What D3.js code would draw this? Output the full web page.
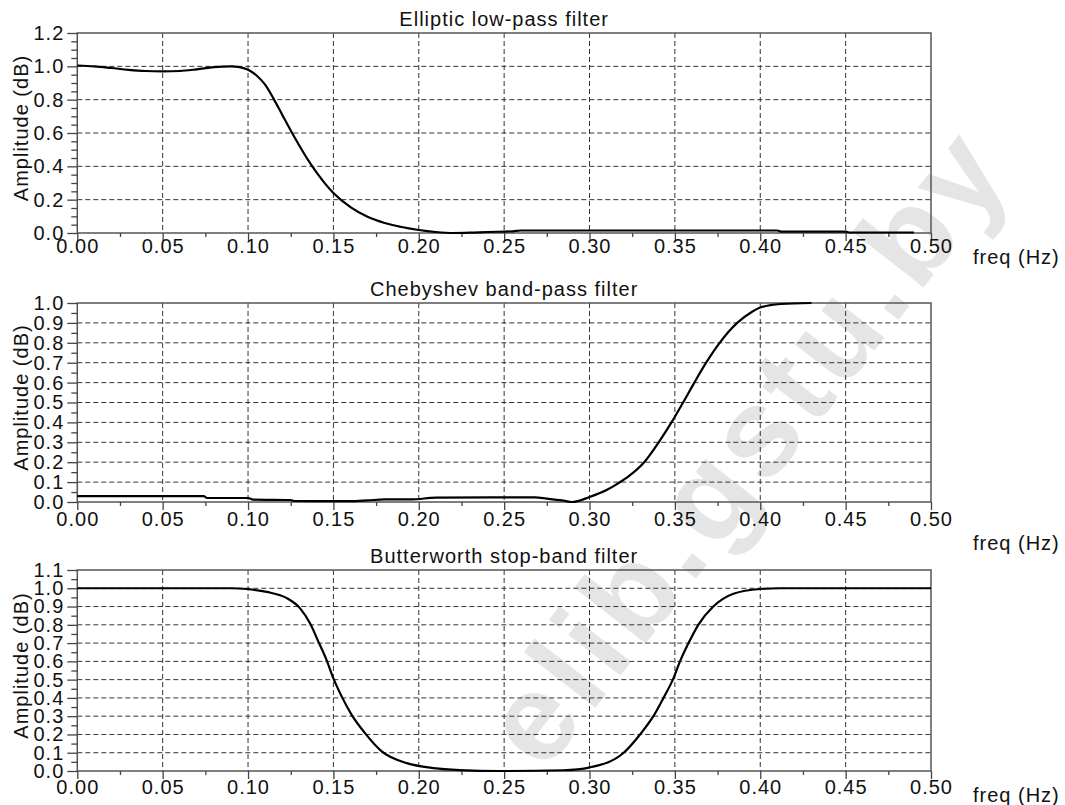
<!DOCTYPE html>
<html lang="en">
<head>
<meta charset="UTF-8">
<title>Filters</title>
<script src="https://cdnjs.cloudflare.com/ajax/libs/d3/7.8.5/d3.min.js"></script>
<style>
	body { margin: 0; background: #fff; }
	svg text { font-family: "Liberation Sans", Arial, sans-serif; fill: #111; letter-spacing: 1px; }
</style>
</head>
<body>
<svg id="chart" width="1065" height="805"></svg>
<script>
// x axis (normalised frequency)
var xTicks = [0, 0.05, 0.10, 0.15, 0.20, 0.25, 0.30, 0.35, 0.40, 0.45, 0.50];
var xLabel = "freq (Hz)";
var yLabel = "Amplitude (dB)";
var titles = ["Elliptic low-pass filter", "Chebyshev band-pass filter", "Butterworth stop-band filter"];

// curves
var ellipticFreq = [0, 0.01, 0.02, 0.03, 0.04, 0.05, 0.06, 0.07, 0.08, 0.09, 0.095, 0.10, 0.105, 0.11, 0.115, 0.12, 0.125, 0.13, 0.135, 0.14, 0.145, 0.15, 0.16, 0.17, 0.18, 0.19, 0.20, 0.21, 0.22, 0.23, 0.24, 0.255, 0.26, 0.30, 0.35, 0.41, 0.412, 0.45, 0.452, 0.49];
var ellipticAmp  = [1.005, 1.0, 0.99, 0.979, 0.972, 0.97, 0.972, 0.982, 0.995, 1.0, 0.995, 0.98, 0.945, 0.89, 0.805, 0.71, 0.615, 0.525, 0.44, 0.365, 0.298, 0.24, 0.155, 0.097, 0.06, 0.036, 0.018, 0.006, 0.0, 0.002, 0.006, 0.01, 0.015, 0.015, 0.015, 0.015, 0.008, 0.008, 0.003, 0.003];

var chebyFreq = [0, 0.074, 0.076, 0.10, 0.103, 0.125, 0.127, 0.16, 0.17, 0.18, 0.196, 0.21, 0.268, 0.275, 0.284, 0.29, 0.30, 0.31, 0.317, 0.323, 0.332, 0.3405, 0.348, 0.3548, 0.3614, 0.3683, 0.3762, 0.3865, 0.395, 0.40, 0.412, 0.43];
var chebyAmp  = [0.03, 0.03, 0.02, 0.02, 0.012, 0.01, 0.005, 0.004, 0.008, 0.013, 0.013, 0.022, 0.023, 0.017, 0.008, 0.0, 0.025, 0.06, 0.095, 0.13, 0.2, 0.30, 0.40, 0.50, 0.60, 0.70, 0.80, 0.90, 0.955, 0.977, 0.995, 1.0];

var butterFreq = [0, 0.09, 0.0992, 0.111, 0.1227, 0.1305, 0.1363, 0.1412, 0.146, 0.15, 0.1549, 0.1607, 0.1685, 0.1783, 0.193, 0.2086, 0.224, 0.2476, 0.2847, 0.3003, 0.32, 0.3296, 0.3374, 0.3433, 0.3488, 0.353, 0.358, 0.3637, 0.3725, 0.3843, 0.40, 0.4117, 0.5];
var butterAmp  = [1.0, 1.0, 0.996, 0.98, 0.946, 0.89, 0.808, 0.708, 0.607, 0.507, 0.407, 0.307, 0.207, 0.107, 0.043, 0.016, 0.005, 0.0, 0.004, 0.02, 0.1, 0.2, 0.3, 0.4, 0.5, 0.6, 0.7, 0.8, 0.9, 0.97, 0.996, 1.0, 1.0];

var svg = d3.select("#chart");
var left = 77.3, right = 931;

// faint watermark behind everything
svg.append("text")
	.attr("transform", "translate(745,445) rotate(-52)")
	.attr("text-anchor", "middle")
	.attr("dy", "0.35em")
	.style("font-size", "125px")
	.style("font-weight", "bold")
	.style("fill", "#e5e5e5")
	.style("letter-spacing", "6px")
	.text("elib.gstu.by");

var panels = [
	{ title: titles[0], freq: ellipticFreq, amp: ellipticAmp, top: 33, bottom: 233, yMax: 1.2, yStep: 0.2, labDy: 13, freqY: 257 },
	{ title: titles[1], freq: chebyFreq, amp: chebyAmp, top: 303, bottom: 502, yMax: 1.0, yStep: 0.1, labDy: 17, freqY: 543 },
	{ title: titles[2], freq: butterFreq, amp: butterAmp, top: 570, bottom: 771, yMax: 1.1, yStep: 0.1, labDy: 16, freqY: 795 }
];

var x = d3.scaleLinear().domain([0, 0.5]).range([left, right]);
var fmt1 = d3.format(".1f"), fmt2 = d3.format(".2f");

panels.forEach(function(p) {
	var y = d3.scaleLinear().domain([0, p.yMax]).range([p.bottom, p.top]);
	var g = svg.append("g");

	var nMaj = Math.round(p.yMax / p.yStep);
	var yMajor = d3.range(nMaj + 1).map(i => +(i * p.yStep).toFixed(2));
	var yMinor = d3.range(Math.round(p.yMax / 0.05) + 1).map(i => +(i * 0.05).toFixed(2))
		.filter(v => yMajor.indexOf(v) < 0);
	var xMinor = d3.range(21).map(i => +(i * 0.025).toFixed(3)).filter(v => xTicks.indexOf(v) < 0);

	// grid
	g.append("g").selectAll("line").data(yMajor.slice(1, -1)).enter().append("line")
		.attr("x1", left).attr("x2", right)
		.attr("y1", d => y(d)).attr("y2", d => y(d))
		.attr("stroke", "#333").attr("stroke-width", 1).attr("stroke-dasharray", "5,3");
	g.append("g").selectAll("line").data(xTicks.slice(1, -1)).enter().append("line")
		.attr("x1", d => x(d)).attr("x2", d => x(d))
		.attr("y1", p.top).attr("y2", p.bottom)
		.attr("stroke", "#333").attr("stroke-width", 1).attr("stroke-dasharray", "5,3");

	// frame
	g.append("rect")
		.attr("x", left).attr("y", p.top)
		.attr("width", right - left).attr("height", p.bottom - p.top)
		.attr("fill", "none").attr("stroke", "#555").attr("stroke-width", 1.5);

	// y axis
	var ay = g.append("g").attr("transform", `translate(${left},0)`)
		.call(d3.axisLeft(y).tickValues(yMajor).tickSize(10).tickPadding(3).tickFormat(fmt1));
	var ayMin = g.append("g").attr("transform", `translate(${left},0)`)
		.call(d3.axisLeft(y).tickValues(yMinor).tickSize(6).tickFormat(""));

	// x axis
	var ax = g.append("g").attr("transform", `translate(0,${p.bottom})`)
		.call(d3.axisBottom(x).tickValues(xTicks).tickSize(8).tickPadding(p.labDy - 15).tickFormat(fmt2));
	var axMin = g.append("g").attr("transform", `translate(0,${p.bottom})`)
		.call(d3.axisBottom(x).tickValues(xMinor).tickSize(4).tickFormat(""));

	[ay, ayMin, ax, axMin].forEach(a => {
		a.select(".domain").remove();
		a.selectAll(".tick line").attr("stroke", "#444").attr("stroke-width", 1.3);
		a.selectAll("text").style("font-size", "20px").attr("fill", "#111");
	});

	// curve
	var line = d3.line().curve(d3.curveMonotoneX)
		.x((d, i) => x(p.freq[i]))
		.y(d => y(d));
	g.append("path").attr("d", line(p.amp))
		.attr("fill", "none").attr("stroke", "#000").attr("stroke-width", 2.2);

	// labels
	g.append("text").attr("x", (left + right) / 2).attr("y", p.top - 7)
		.attr("text-anchor", "middle").style("font-size", "20px").text(p.title);
	g.append("text").attr("transform", `translate(28,${(p.top + p.bottom) / 2 - 5}) rotate(-90)`)
		.attr("text-anchor", "middle").style("font-size", "20px").text(yLabel);
	g.append("text").attr("x", 973).attr("y", p.freqY).attr("dy", "0.35em")
		.style("font-size", "20px").text(xLabel);
});
</script>
</body>
</html>
